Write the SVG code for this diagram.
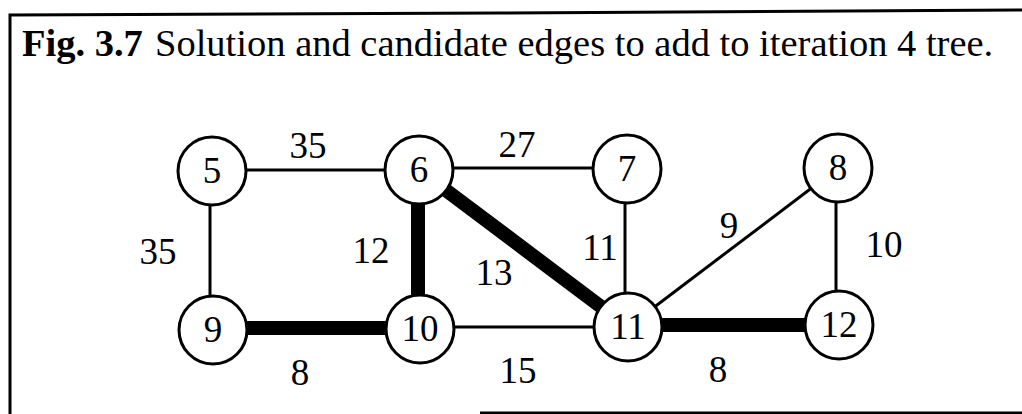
<svg xmlns="http://www.w3.org/2000/svg" width="1022" height="414" viewBox="0 0 1022 414">
  <style>
    text { font-family: "Liberation Serif", "Times New Roman", serif; fill: #000; }
    .title { font-size: 38.5px; }
    .bold { font-weight: bold; }
    .lbl { font-size: 37px; text-anchor: middle; }
    .node circle { fill: #fff; stroke: #000; stroke-width: 3; }
    .edge { stroke: #000; stroke-width: 3; fill: none; }
    .tree { stroke: #000; stroke-width: 14; fill: none; }
    .frame { stroke: #000; stroke-width: 3; fill: none; }
  </style>
  <rect width="1022" height="414" fill="#fff"/>

  <!-- frame -->
  <g id="frame">
    <polyline class="frame" points="10,414 10,15 500,13 1022,10"/>
    <line class="frame" x1="480" y1="413" x2="1022" y2="413" stroke-width="2"/>
  </g>

  <!-- caption -->
  <text id="title" class="title" y="56"><tspan class="bold" x="22">Fig. 3.7</tspan><tspan x="155">Solution and candidate edges to add to iteration 4 tree.</tspan></text>

  <!-- connectors: thin = candidate edges, thick = tree edges -->
  <g id="connectors">
    <line class="edge" x1="212" y1="170" x2="419" y2="170"/>
    <line class="edge" x1="419" y1="168" x2="627" y2="168"/>
    <line class="edge" x1="210" y1="171" x2="210" y2="330"/>
    <line class="edge" x1="625" y1="169" x2="625" y2="327"/>
    <line class="edge" x1="838" y1="168" x2="628" y2="327"/>
    <line class="edge" x1="836" y1="168" x2="836" y2="325"/>
    <line class="edge" x1="420" y1="327" x2="628" y2="327"/>
    <line class="tree" x1="418" y1="170" x2="418" y2="329"/>
    <line class="tree" x1="419" y1="170" x2="628" y2="327"/>
    <line class="tree" x1="213" y1="328" x2="420" y2="328" stroke-width="15"/>
    <line class="tree" x1="628" y1="325" x2="839" y2="325" stroke-width="15"/>
  </g>

  <!-- edge weights -->
  <g id="weights">
    <text class="lbl" x="308" y="158">35</text>
    <text class="lbl" x="517" y="157">27</text>
    <text class="lbl" x="158" y="264">35</text>
    <text class="lbl" x="371" y="263">12</text>
    <text class="lbl" x="600" y="260">11</text>
    <text class="lbl" x="729" y="238">9</text>
    <text class="lbl" x="884" y="257">10</text>
    <text class="lbl" x="494" y="285">13</text>
    <text class="lbl" x="300" y="385">8</text>
    <text class="lbl" x="518" y="383">15</text>
    <text class="lbl" x="718" y="382">8</text>
  </g>

  <!-- nodes -->
  <g id="n5" class="node"><circle cx="212" cy="171" r="34"/><text class="lbl" x="212" y="183">5</text></g>
  <g id="n6" class="node"><circle cx="419" cy="170" r="34"/><text class="lbl" x="419" y="182">6</text></g>
  <g id="n7" class="node"><circle cx="627" cy="169" r="34"/><text class="lbl" x="627" y="181">7</text></g>
  <g id="n8" class="node"><circle cx="838" cy="168" r="34"/><text class="lbl" x="838" y="180">8</text></g>
  <g id="n9" class="node"><circle cx="213" cy="330" r="34"/><text class="lbl" x="213" y="342">9</text></g>
  <g id="n10" class="node"><circle cx="420" cy="329" r="34"/><text class="lbl" x="420" y="341">10</text></g>
  <g id="n11" class="node"><circle cx="628" cy="327" r="34"/><text class="lbl" x="628" y="339">11</text></g>
  <g id="n12" class="node"><circle cx="839" cy="325" r="34"/><text class="lbl" x="839" y="337">12</text></g>
</svg>
